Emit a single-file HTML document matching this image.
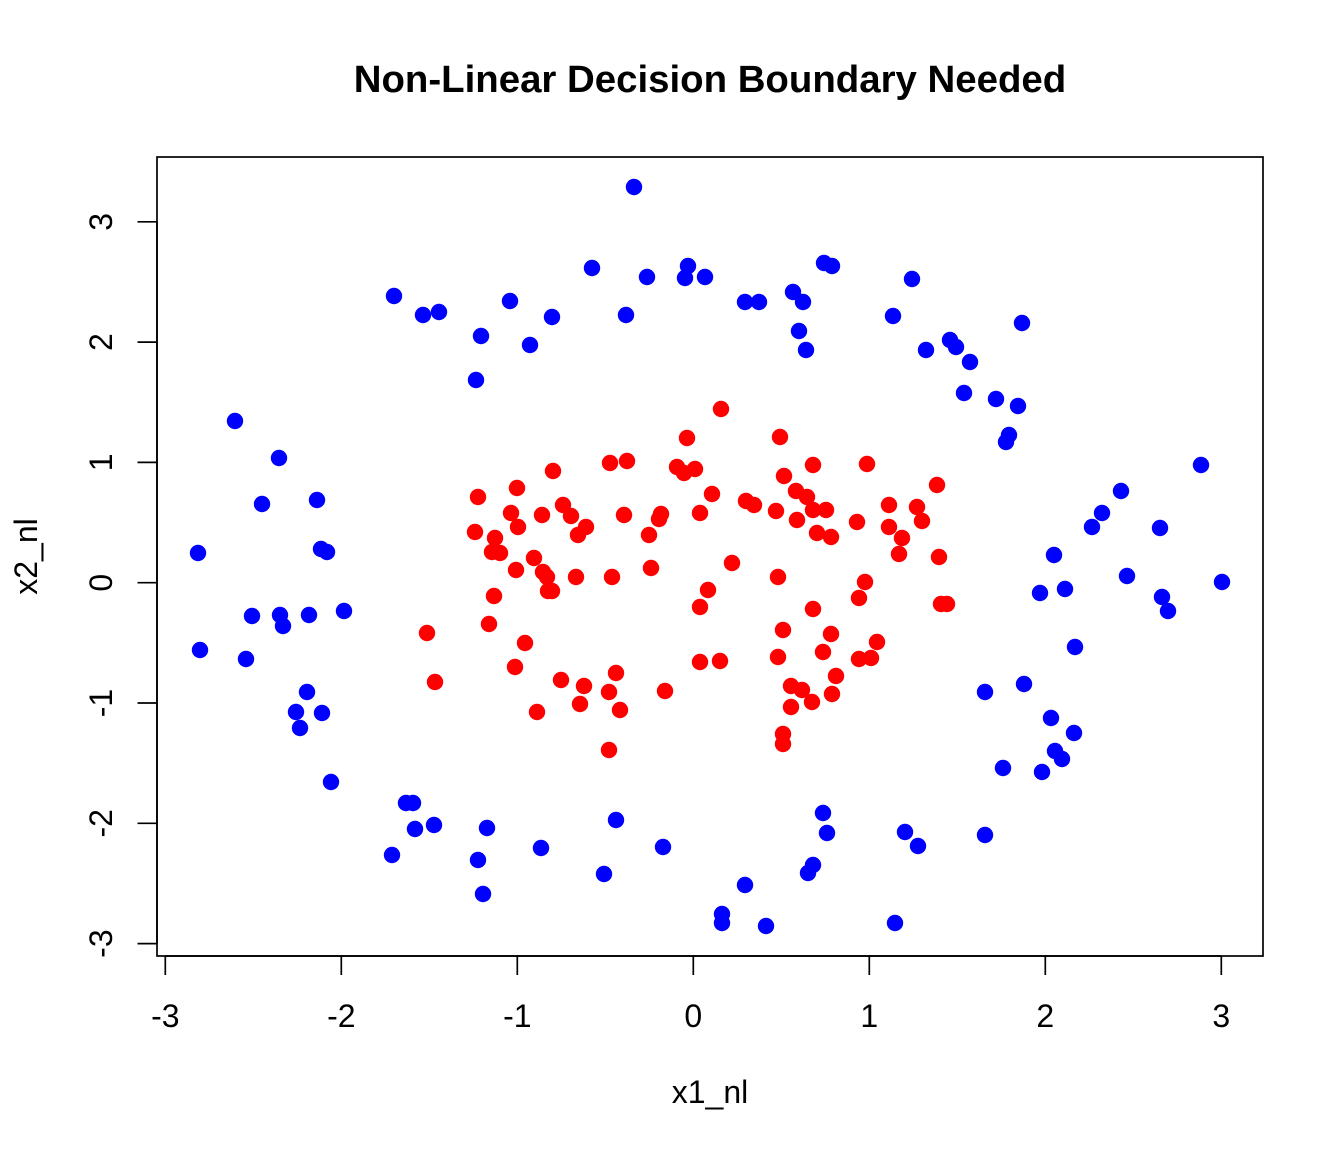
<!DOCTYPE html>
<html>
<head>
<meta charset="utf-8">
<style>
html,body{margin:0;padding:0;background:#fff;}
svg{display:block;}
text{font-family:"Liberation Sans",Arial,Helvetica,sans-serif;fill:#000;}
</style>
</head>
<body>
<svg width="1344" height="1152" viewBox="0 0 1344 1152" xmlns="http://www.w3.org/2000/svg">
<rect x="0" y="0" width="1344" height="1152" fill="#fff"/>
<text x="710" y="92" font-size="38.4" font-weight="bold" text-anchor="middle">Non-Linear Decision Boundary Needed</text>
<g fill="#0000FF">
<circle cx="634" cy="187" r="8.2"/><circle cx="592" cy="268" r="8.2"/><circle cx="647" cy="277" r="8.2"/><circle cx="688" cy="266" r="8.2"/>
<circle cx="685" cy="278" r="8.2"/><circle cx="705" cy="277" r="8.2"/><circle cx="824" cy="263" r="8.2"/><circle cx="832" cy="266" r="8.2"/>
<circle cx="745" cy="302" r="8.2"/><circle cx="759" cy="302" r="8.2"/><circle cx="793" cy="292" r="8.2"/><circle cx="803" cy="302" r="8.2"/>
<circle cx="893" cy="316" r="8.2"/><circle cx="552" cy="317" r="8.2"/><circle cx="626" cy="315" r="8.2"/><circle cx="530" cy="345" r="8.2"/>
<circle cx="799" cy="331" r="8.2"/><circle cx="806" cy="350" r="8.2"/><circle cx="394" cy="296" r="8.2"/><circle cx="423" cy="315" r="8.2"/>
<circle cx="439" cy="312" r="8.2"/><circle cx="510" cy="301" r="8.2"/><circle cx="481" cy="336" r="8.2"/><circle cx="476" cy="380" r="8.2"/>
<circle cx="235" cy="421" r="8.2"/><circle cx="279" cy="458" r="8.2"/><circle cx="262" cy="504" r="8.2"/><circle cx="317" cy="500" r="8.2"/>
<circle cx="198" cy="553" r="8.2"/><circle cx="321" cy="549" r="8.2"/><circle cx="327" cy="552" r="8.2"/><circle cx="912" cy="279" r="8.2"/>
<circle cx="1022" cy="323" r="8.2"/><circle cx="926" cy="350" r="8.2"/><circle cx="950" cy="340" r="8.2"/><circle cx="956" cy="347" r="8.2"/>
<circle cx="970" cy="362" r="8.2"/><circle cx="964" cy="393" r="8.2"/><circle cx="996" cy="399" r="8.2"/><circle cx="1018" cy="406" r="8.2"/>
<circle cx="1009" cy="435" r="8.2"/><circle cx="1006" cy="442" r="8.2"/><circle cx="1201" cy="465" r="8.2"/><circle cx="1121" cy="491" r="8.2"/>
<circle cx="1102" cy="513" r="8.2"/><circle cx="1092" cy="527" r="8.2"/><circle cx="1160" cy="528" r="8.2"/><circle cx="1054" cy="555" r="8.2"/>
<circle cx="252" cy="616" r="8.2"/><circle cx="280" cy="615" r="8.2"/><circle cx="283" cy="626" r="8.2"/><circle cx="309" cy="615" r="8.2"/>
<circle cx="344" cy="611" r="8.2"/><circle cx="200" cy="650" r="8.2"/><circle cx="246" cy="659" r="8.2"/><circle cx="307" cy="692" r="8.2"/>
<circle cx="296" cy="712" r="8.2"/><circle cx="322" cy="713" r="8.2"/><circle cx="300" cy="728" r="8.2"/><circle cx="331" cy="782" r="8.2"/>
<circle cx="406" cy="803" r="8.2"/><circle cx="413" cy="803" r="8.2"/><circle cx="415" cy="829" r="8.2"/><circle cx="434" cy="825" r="8.2"/>
<circle cx="487" cy="828" r="8.2"/><circle cx="392" cy="855" r="8.2"/><circle cx="478" cy="860" r="8.2"/><circle cx="483" cy="894" r="8.2"/>
<circle cx="616" cy="820" r="8.2"/><circle cx="541" cy="848" r="8.2"/><circle cx="663" cy="847" r="8.2"/><circle cx="604" cy="874" r="8.2"/>
<circle cx="823" cy="813" r="8.2"/><circle cx="827" cy="833" r="8.2"/><circle cx="813" cy="865" r="8.2"/><circle cx="808" cy="873" r="8.2"/>
<circle cx="745" cy="885" r="8.2"/><circle cx="722" cy="914" r="8.2"/><circle cx="722" cy="923" r="8.2"/><circle cx="766" cy="926" r="8.2"/>
<circle cx="895" cy="923" r="8.2"/><circle cx="1127" cy="576" r="8.2"/><circle cx="1222" cy="582" r="8.2"/><circle cx="1040" cy="593" r="8.2"/>
<circle cx="1065" cy="589" r="8.2"/><circle cx="1162" cy="597" r="8.2"/><circle cx="1168" cy="611" r="8.2"/><circle cx="1075" cy="647" r="8.2"/>
<circle cx="985" cy="692" r="8.2"/><circle cx="1024" cy="684" r="8.2"/><circle cx="1051" cy="718" r="8.2"/><circle cx="1074" cy="733" r="8.2"/>
<circle cx="1055" cy="751" r="8.2"/><circle cx="1062" cy="759" r="8.2"/><circle cx="1003" cy="768" r="8.2"/><circle cx="1042" cy="772" r="8.2"/>
<circle cx="905" cy="832" r="8.2"/><circle cx="918" cy="846" r="8.2"/><circle cx="985" cy="835" r="8.2"/>
</g>
<g fill="#FF0000">
<circle cx="478" cy="497" r="8.2"/><circle cx="517" cy="488" r="8.2"/><circle cx="511" cy="513" r="8.2"/><circle cx="518" cy="527" r="8.2"/>
<circle cx="475" cy="532" r="8.2"/><circle cx="495" cy="538" r="8.2"/><circle cx="492" cy="552" r="8.2"/><circle cx="500" cy="553" r="8.2"/>
<circle cx="721" cy="409" r="8.2"/><circle cx="687" cy="438" r="8.2"/><circle cx="780" cy="437" r="8.2"/><circle cx="610" cy="463" r="8.2"/>
<circle cx="627" cy="461" r="8.2"/><circle cx="553" cy="471" r="8.2"/><circle cx="677" cy="467" r="8.2"/><circle cx="684" cy="473" r="8.2"/>
<circle cx="695" cy="469" r="8.2"/><circle cx="813" cy="465" r="8.2"/><circle cx="867" cy="464" r="8.2"/><circle cx="784" cy="476" r="8.2"/>
<circle cx="712" cy="494" r="8.2"/><circle cx="796" cy="491" r="8.2"/><circle cx="807" cy="497" r="8.2"/><circle cx="746" cy="501" r="8.2"/>
<circle cx="754" cy="505" r="8.2"/><circle cx="563" cy="505" r="8.2"/><circle cx="571" cy="516" r="8.2"/><circle cx="542" cy="515" r="8.2"/>
<circle cx="624" cy="515" r="8.2"/><circle cx="661" cy="514" r="8.2"/><circle cx="659" cy="519" r="8.2"/><circle cx="700" cy="513" r="8.2"/>
<circle cx="776" cy="511" r="8.2"/><circle cx="813" cy="510" r="8.2"/><circle cx="826" cy="510" r="8.2"/><circle cx="857" cy="522" r="8.2"/>
<circle cx="889" cy="505" r="8.2"/><circle cx="889" cy="527" r="8.2"/><circle cx="797" cy="520" r="8.2"/><circle cx="817" cy="533" r="8.2"/>
<circle cx="831" cy="537" r="8.2"/><circle cx="586" cy="527" r="8.2"/><circle cx="578" cy="535" r="8.2"/><circle cx="649" cy="535" r="8.2"/>
<circle cx="534" cy="558" r="8.2"/><circle cx="732" cy="563" r="8.2"/><circle cx="937" cy="485" r="8.2"/><circle cx="917" cy="507" r="8.2"/>
<circle cx="922" cy="521" r="8.2"/><circle cx="902" cy="538" r="8.2"/><circle cx="899" cy="554" r="8.2"/><circle cx="939" cy="557" r="8.2"/>
<circle cx="516" cy="570" r="8.2"/><circle cx="494" cy="596" r="8.2"/><circle cx="489" cy="624" r="8.2"/><circle cx="427" cy="633" r="8.2"/>
<circle cx="525" cy="643" r="8.2"/><circle cx="515" cy="667" r="8.2"/><circle cx="435" cy="682" r="8.2"/><circle cx="543" cy="572" r="8.2"/>
<circle cx="547" cy="577" r="8.2"/><circle cx="548" cy="591" r="8.2"/><circle cx="552" cy="591" r="8.2"/><circle cx="576" cy="577" r="8.2"/>
<circle cx="612" cy="577" r="8.2"/><circle cx="651" cy="568" r="8.2"/><circle cx="778" cy="577" r="8.2"/><circle cx="865" cy="582" r="8.2"/>
<circle cx="708" cy="590" r="8.2"/><circle cx="700" cy="607" r="8.2"/><circle cx="859" cy="598" r="8.2"/><circle cx="813" cy="609" r="8.2"/>
<circle cx="783" cy="630" r="8.2"/><circle cx="831" cy="634" r="8.2"/><circle cx="877" cy="642" r="8.2"/><circle cx="823" cy="652" r="8.2"/>
<circle cx="778" cy="657" r="8.2"/><circle cx="859" cy="659" r="8.2"/><circle cx="871" cy="658" r="8.2"/><circle cx="700" cy="662" r="8.2"/>
<circle cx="720" cy="661" r="8.2"/><circle cx="616" cy="673" r="8.2"/><circle cx="561" cy="680" r="8.2"/><circle cx="584" cy="686" r="8.2"/>
<circle cx="609" cy="692" r="8.2"/><circle cx="665" cy="691" r="8.2"/><circle cx="836" cy="676" r="8.2"/><circle cx="791" cy="686" r="8.2"/>
<circle cx="802" cy="690" r="8.2"/><circle cx="812" cy="702" r="8.2"/><circle cx="832" cy="694" r="8.2"/><circle cx="791" cy="707" r="8.2"/>
<circle cx="580" cy="704" r="8.2"/><circle cx="620" cy="710" r="8.2"/><circle cx="537" cy="712" r="8.2"/><circle cx="783" cy="734" r="8.2"/>
<circle cx="783" cy="744" r="8.2"/><circle cx="609" cy="750" r="8.2"/><circle cx="941" cy="604" r="8.2"/><circle cx="947" cy="604" r="8.2"/>
</g>
<rect x="157" y="157" width="1106" height="799" fill="none" stroke="#000" stroke-width="1.7"/>
<g stroke="#000" stroke-width="1.7" fill="none">
<line x1="165.3" y1="956" x2="1221.3" y2="956"/>
<line x1="165.3" y1="956" x2="165.3" y2="975"/>
<line x1="341.3" y1="956" x2="341.3" y2="975"/>
<line x1="517.3" y1="956" x2="517.3" y2="975"/>
<line x1="693.3" y1="956" x2="693.3" y2="975"/>
<line x1="869.3" y1="956" x2="869.3" y2="975"/>
<line x1="1045.3" y1="956" x2="1045.3" y2="975"/>
<line x1="1221.3" y1="956" x2="1221.3" y2="975"/>
<line x1="157" y1="221.8" x2="157" y2="943.6"/>
<line x1="137.5" y1="943.6" x2="157" y2="943.6"/>
<line x1="137.5" y1="823.3" x2="157" y2="823.3"/>
<line x1="137.5" y1="703" x2="157" y2="703"/>
<line x1="137.5" y1="582.7" x2="157" y2="582.7"/>
<line x1="137.5" y1="462.4" x2="157" y2="462.4"/>
<line x1="137.5" y1="342.1" x2="157" y2="342.1"/>
<line x1="137.5" y1="221.8" x2="157" y2="221.8"/>
</g>
<g font-size="32" text-anchor="middle">
<text x="165.3" y="1027">-3</text>
<text x="341.3" y="1027">-2</text>
<text x="517.3" y="1027">-1</text>
<text x="693.3" y="1027">0</text>
<text x="869.3" y="1027">1</text>
<text x="1045.3" y="1027">2</text>
<text x="1221.3" y="1027">3</text>
<text transform="translate(112,943.6) rotate(-90)">-3</text>
<text transform="translate(112,823.3) rotate(-90)">-2</text>
<text transform="translate(112,703) rotate(-90)">-1</text>
<text transform="translate(112,582.7) rotate(-90)">0</text>
<text transform="translate(112,462.4) rotate(-90)">1</text>
<text transform="translate(112,342.1) rotate(-90)">2</text>
<text transform="translate(112,221.8) rotate(-90)">3</text>
<text x="710" y="1103">x1_nl</text>
<text transform="translate(37,556.5) rotate(-90)">x2_nl</text>
</g>
</svg>
</body>
</html>
